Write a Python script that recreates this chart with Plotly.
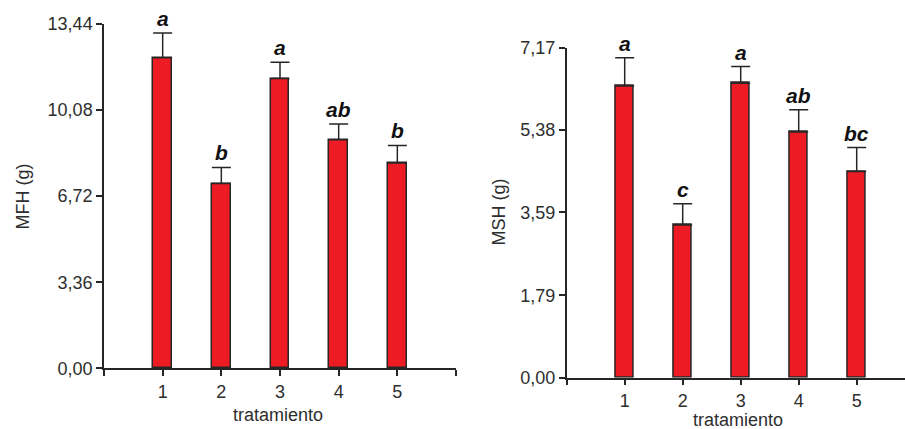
import plotly.graph_objects as go

# ---- data ----
tratamientos = [1, 2, 3, 4, 5]
mfh_vals = [12.12, 7.21, 11.31, 8.92, 8.01]
mfh_err = [0.97, 0.63, 0.64, 0.62, 0.69]
mfh_letters = ["a", "b", "a", "ab", "b"]
mfh_ticks = [0.0, 3.36, 6.72, 10.08, 13.44]
mfh_ticktext = ["0,00", "3,36", "6,72", "10,08", "13,44"]

msh_vals = [6.34, 3.32, 6.40, 5.34, 4.48]
msh_err = [0.61, 0.46, 0.36, 0.48, 0.52]
msh_letters = ["a", "c", "a", "ab", "bc"]
msh_ticks = [0.0, 1.79, 3.59, 5.38, 7.17]
msh_ticktext = ["0,00", "1,79", "3,59", "5,38", "7,17"]

W, H = 905, 429
RED = "#ed1c24"
DARK = "#262626"
TXT = "#2e2e2e"
FONT = "Liberation Sans, Arial, sans-serif"

fig = go.Figure()

def add_panel(vals, err, xa, ya):
    fig.add_trace(go.Bar(
        x=tratamientos, y=vals, width=0.32,
        marker=dict(color=RED, line=dict(color=DARK, width=1.5)),
        error_y=dict(type="data", array=err, arrayminus=[0] * len(err),
                     symmetric=False, color=DARK, thickness=1.5, width=9.5),
        xaxis=xa, yaxis=ya, showlegend=False, hoverinfo="skip",
    ))

add_panel(mfh_vals, mfh_err, "x", "y")
add_panel(msh_vals, msh_err, "x2", "y2")

axis_common = dict(showgrid=False, zeroline=False, showline=True, automargin=False,
                   linecolor=DARK, linewidth=1.5, ticks="outside",
                   ticklen=6, tickwidth=1.5, tickcolor=DARK,
                   tickfont=dict(family=FONT, size=18, color=TXT))

fig.update_layout(
    template="none",
    xaxis=dict(domain=[104 / W, 456 / W], range=[0, 6], anchor="y",
               tickvals=[0, 1, 2, 3, 4, 5, 6],
               ticktext=["", "1", "2", "3", "4", "5", ""], **axis_common),
    yaxis=dict(domain=[(H - 368.3) / H, (H - 24) / H], range=[0, 13.44],
               anchor="x", tickvals=mfh_ticks, ticktext=mfh_ticktext,
               **axis_common),
    xaxis2=dict(domain=[566.7 / W, 1.0], range=[0, (W - 566.7) / 58.0],
                anchor="y2", tickvals=[0, 1, 2, 3, 4, 5],
                ticktext=["", "1", "2", "3", "4", "5"], **axis_common),
    yaxis2=dict(domain=[(H - 377.7) / H, (H - 47.7) / H], range=[0, 7.17],
                anchor="x2", tickvals=msh_ticks, ticktext=msh_ticktext,
                **axis_common),
)

annotations = []
letter_font = dict(family=FONT, size=21, color="#111111")
for xv, v, e, lab in zip(tratamientos, mfh_vals, mfh_err, mfh_letters):
    annotations.append(dict(x=xv, y=v + e, xref="x", yref="y", text="<b><i>%s</i></b>" % lab,
                            showarrow=False, yanchor="bottom", yshift=1, font=letter_font))
for xv, v, e, lab in zip(tratamientos, msh_vals, msh_err, msh_letters):
    annotations.append(dict(x=xv, y=v + e, xref="x2", yref="y2", text="<b><i>%s</i></b>" % lab,
                            showarrow=False, yanchor="bottom", yshift=1, font=letter_font))

title_font = dict(family=FONT, size=18, color=TXT)
annotations += [
    dict(x=22 / W, y=(H - 196.5) / H, xref="paper", yref="paper", text="MFH (g)",
         textangle=-90, showarrow=False, font=title_font, xanchor="center", yanchor="middle"),
    dict(x=278 / W, y=(H - 415) / H, xref="paper", yref="paper", text="tratamiento",
         showarrow=False, font=title_font, xanchor="center", yanchor="middle"),
    dict(x=498 / W, y=(H - 212.5) / H, xref="paper", yref="paper", text="MSH (g)",
         textangle=-90, showarrow=False, font=title_font, xanchor="center", yanchor="middle"),
    dict(x=738 / W, y=(H - 420) / H, xref="paper", yref="paper", text="tratamiento",
         showarrow=False, font=title_font, xanchor="center", yanchor="middle"),
]

fig.update_layout(
    width=W, height=H, margin=dict(l=0, r=0, t=0, b=0, autoexpand=False),
    paper_bgcolor="white", plot_bgcolor="white",
    annotations=annotations, bargap=0,
)

fig.write_html("out.html", config={"displayModeBar": False},
               post_script="document.body.style.margin='0';document.body.style.overflow='hidden';")
